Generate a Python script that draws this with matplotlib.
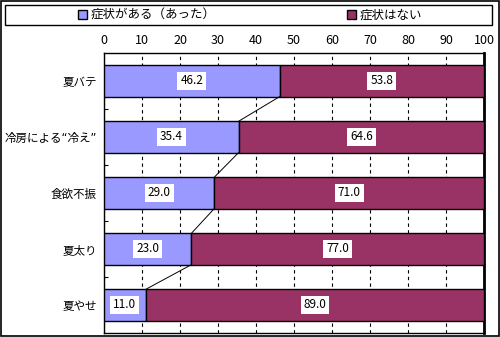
import numpy as np
import matplotlib.pyplot as plt
from matplotlib.patches import Rectangle

plt.rcParams['font.family'] = ['Noto Sans CJK JP', 'DejaVu Sans']

categories = ['夏バテ', '冷房による“冷え”', '食欲不振', '夏太り', '夏やせ']
yes_vals = [46.2, 35.4, 29.0, 23.0, 11.0]
no_vals = [53.8, 64.6, 71.0, 77.0, 89.0]
series_names = ['症状がある（あった）', '症状はない']
colors = ['#9999FF', '#993366']

fig = plt.figure(figsize=(5, 3.37), dpi=100)
ax = fig.add_axes([104 / 500, 1 - 333 / 337, 380 / 500, 280 / 337])

y = np.arange(len(categories))
h = 0.56
b1 = ax.barh(y, yes_vals, height=h, color=colors[0], edgecolor='black', linewidth=1, label=series_names[0], zorder=3)
b2 = ax.barh(y, no_vals, left=yes_vals, height=h, color=colors[1], edgecolor='black', linewidth=1, label=series_names[1], zorder=3)

# series lines between bars
for i in range(len(categories) - 1):
    ax.plot([yes_vals[i], yes_vals[i + 1]], [i + h / 2, i + 1 - h / 2], color='black', lw=0.7, zorder=4)

# value labels
for i in range(len(categories)):
    for x, w in [(0, yes_vals[i]), (yes_vals[i], no_vals[i])]:
        ax.text(x + w / 2, i, f'{w:.1f}', ha='center', va='center', fontsize=8.5, zorder=5,
                bbox=dict(boxstyle='square,pad=0.25', fc='white', ec='none'))

ax.set_xlim(0, 100)
ax.set_ylim(len(categories) - 0.5, -0.5)
ax.set_xticks(np.arange(0, 101, 10))
ax.xaxis.tick_top()
ax.tick_params(axis='x', length=0, labelsize=9, pad=4)
ax.set_yticks(y)
ax.set_yticklabels(categories, fontsize=8.3, family=['DejaVu Sans', 'Noto Sans CJK JP'])
ax.tick_params(axis='y', which='major', length=0, pad=5)
ax.set_yticks(np.arange(0.5, len(categories) - 0.5, 1), minor=True)
ax.tick_params(axis='y', which='minor', direction='in', length=3, width=0.8)
ax.grid(axis='x', color='black', linestyle=(0, (3, 3)), linewidth=0.8, zorder=1)
for s in ax.spines.values():
    s.set_linewidth(1)
ax.spines['right'].set_linewidth(2)

# legend box
fig.patches.append(Rectangle((5 / 500, 1 - 25 / 337), 487 / 500, 20 / 337, transform=fig.transFigure,
                             fill=False, ec='black', lw=1))
fig.legend(handles=[b1, b2], loc='center', bbox_to_anchor=(250 / 500, 1 - 15 / 337), ncol=2,
           frameon=False, fontsize=9, handlelength=0.7, handleheight=0.7, handletextpad=0.3,
           columnspacing=10.5, borderpad=0)

# outer frame
fig.patches.append(Rectangle((0.001, 0.002), 0.997, 0.996, transform=fig.transFigure,
                             fill=False, ec='black', lw=1.2))

fig.savefig('out.png', dpi=100)
